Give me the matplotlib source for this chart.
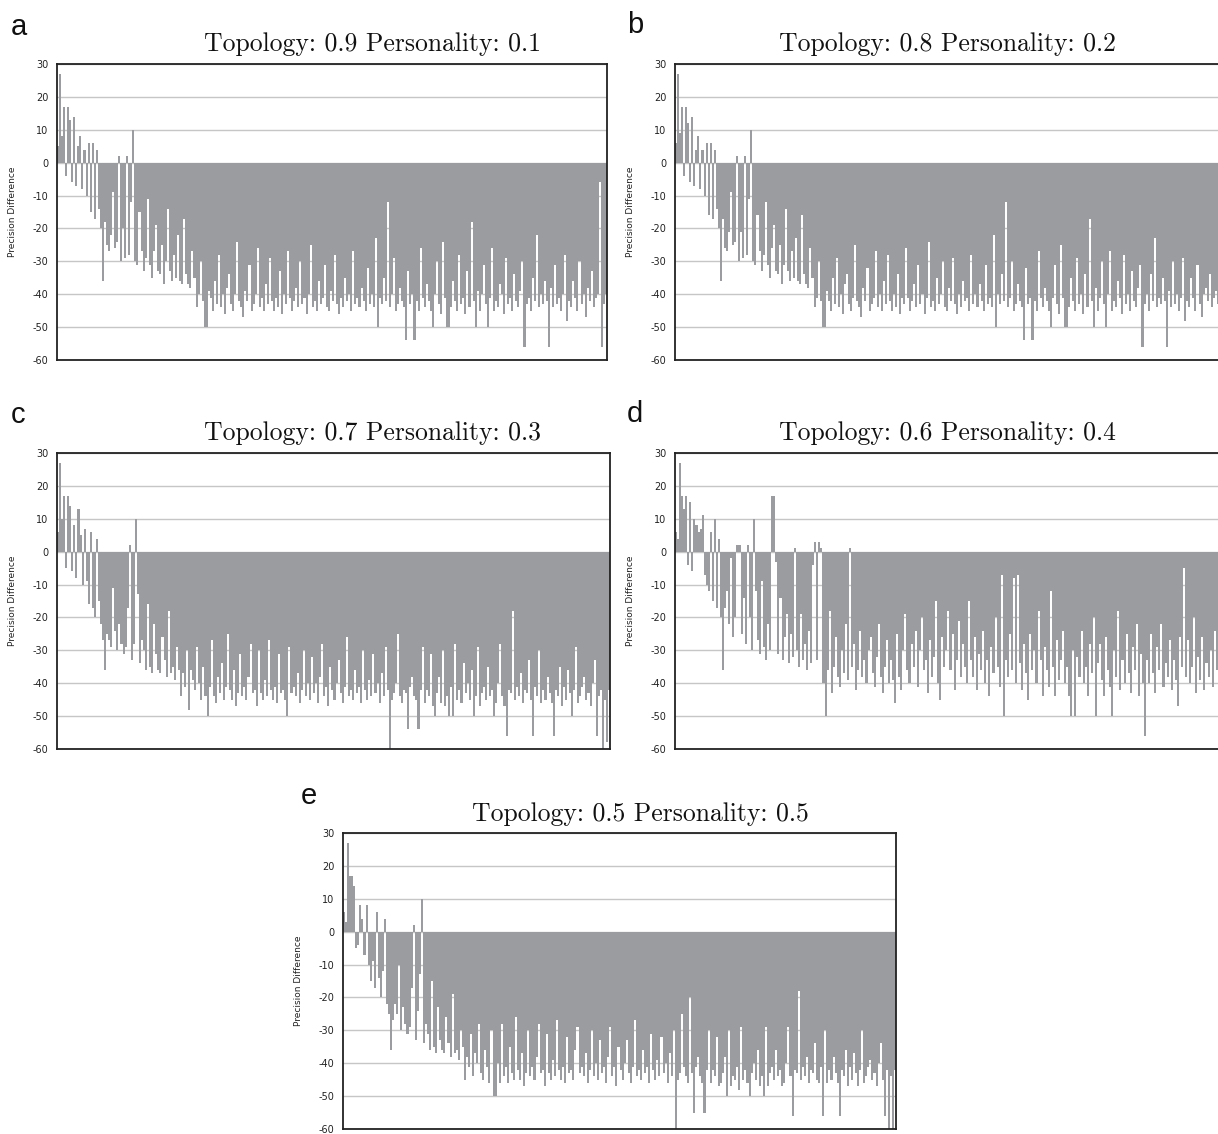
import numpy as np
import matplotlib
matplotlib.use("Agg")
import matplotlib.pyplot as plt

# ---------------- data ----------------
titles = ["Topology: 0.9 Personality: 0.1",
          "Topology: 0.8 Personality: 0.2",
          "Topology: 0.7 Personality: 0.3",
          "Topology: 0.6 Personality: 0.4",
          "Topology: 0.5 Personality: 0.5"]
letters = ["a", "b", "c", "d", "e"]
yticks = [30, 20, 10, 0, -10, -20, -30, -40, -50, -60]

values_a = [
    5, 27, 8, 17, -4, 17, 13, -6, 14, -7, 5, 8, -8, 4, -10, 6, -15, 6, -17, 4, -14, -20, -36, -18, -25, -27, -22, -9, -26, -24,
    2, -30, -20, -29, 2, -28, -12, 10, -30, -31, -15, -27, -33, -29, -11, -31, -35, -27, -19, -33, -34, -25, -37, -30, -14, -33, -36, -28, -35, -22,
    -36, -37, -17, -34, -37, -38, -27, -35, -44, -40, -30, -42, -50, -50, -39, -41, -45, -36, -43, -28, -44, -40, -46, -38, -34, -43, -45, -40, -24, -42,
    -44, -47, -39, -42, -31, -45, -43, -40, -26, -44, -41, -45, -37, -43, -29, -42, -45, -41, -44, -33, -46, -40, -43, -27, -41, -45, -42, -38, -44, -30,
    -43, -41, -46, -40, -25, -44, -42, -45, -36, -43, -41, -31, -44, -45, -39, -42, -28, -43, -46, -41, -44, -35, -42, -40, -45, -27, -43, -41, -44, -38,
    -42, -45, -32, -43, -40, -44, -23, -50, -41, -43, -35, -42, -12, -44, -40, -29, -45, -43, -38, -42, -44, -54, -33, -43, -40, -54, -42, -45, -26, -41,
    -44, -37, -42, -45, -50, -40, -30, -43, -46, -24, -41, -50, -50, -44, -36, -42, -45, -28, -43, -41, -46, -33, -44, -18, -42, -50, -39, -45, -40, -31,
    -43, -50, -41, -26, -45, -42, -44, -37, -40, -46, -29, -43, -41, -45, -34, -42, -44, -39, -30, -56, -43, -41, -45, -35, -42, -22, -44, -40, -43, -36,
    -42, -56, -38, -44, -31, -43, -41, -45, -40, -28, -48, -42, -44, -36, -41, -45, -30, -43, -40, -47, -38, -42, -33, -44, -41, -40, -6, -56, -43, -40]

values_b = [
    6, 27, 9, 17, -4, 17, 12, -6, 14, -7, 4, 8, -8, 4, -10, 6, -16, 6, -17, 4, -14, -20, -36, -17, -26, -27, -21, -9, -25, -24,
    2, -30, -21, -29, 2, -28, -11, 10, -30, -31, -16, -27, -33, -28, -12, -31, -35, -26, -19, -33, -34, -25, -37, -31, -14, -33, -36, -27, -35, -23,
    -36, -37, -16, -34, -37, -38, -26, -35, -44, -41, -30, -42, -50, -50, -39, -42, -45, -35, -43, -29, -44, -40, -46, -37, -34, -43, -45, -41, -25, -42,
    -44, -47, -38, -42, -32, -45, -43, -41, -27, -44, -40, -45, -36, -43, -28, -42, -45, -40, -44, -34, -46, -41, -43, -26, -41, -45, -42, -37, -44, -31,
    -43, -40, -46, -41, -24, -44, -42, -45, -35, -43, -40, -30, -44, -45, -38, -42, -29, -43, -46, -40, -44, -36, -42, -41, -45, -28, -43, -40, -44, -37,
    -42, -45, -31, -43, -41, -44, -22, -50, -40, -43, -34, -42, -12, -44, -41, -30, -45, -43, -37, -42, -44, -54, -32, -43, -41, -54, -42, -45, -27, -41,
    -44, -38, -42, -45, -50, -41, -31, -43, -46, -25, -41, -50, -50, -44, -35, -42, -45, -29, -43, -40, -46, -34, -44, -17, -42, -50, -38, -45, -41, -30,
    -43, -50, -40, -27, -45, -42, -44, -36, -41, -46, -28, -43, -40, -45, -33, -42, -44, -38, -31, -56, -43, -40, -45, -34, -42, -23, -44, -41, -43, -35,
    -42, -56, -39, -44, -30, -43, -40, -45, -41, -29, -48, -42, -44, -35, -41, -45, -31, -43, -47, -40, -38, -42, -34, -44, -41, -39, -43, -45, -40, -42]

values_c = [
    6, 27, 10, 17, -5, 17, 14, -6, 8, -8, 13, 5, -10, 7, -9, -16, 6, -17, -20, 4, -15, -22, -27, -36, -25, -27, -29, -11, -24, -30,
    -22, -28, -31, -29, -17, 2, -33, -28, 10, -13, -34, -27, -30, -36, -16, -35, -37, -22, -31, -36, -37, -26, -33, -38, -18, -37, -35, -39, -29, -36,
    -44, -37, -41, -30, -48, -36, -39, -42, -29, -40, -45, -35, -44, -50, -41, -27, -44, -46, -38, -43, -34, -45, -41, -25, -42, -45, -36, -47, -43, -31,
    -44, -41, -45, -38, -28, -43, -42, -47, -30, -43, -45, -39, -44, -27, -42, -45, -41, -46, -31, -43, -42, -45, -50, -29, -43, -41, -44, -37, -46, -42,
    -30, -44, -40, -45, -32, -43, -40, -46, -38, -28, -44, -41, -47, -35, -42, -45, -40, -33, -43, -46, -41, -26, -44, -42, -45, -36, -43, -41, -46, -30,
    -42, -45, -39, -44, -31, -43, -40, -46, -37, -44, -29, -42, -60, -45, -43, -40, -25, -44, -46, -42, -43, -54, -41, -38, -44, -45, -54, -42, -29, -46,
    -42, -44, -31, -47, -50, -43, -38, -46, -30, -47, -44, -50, -41, -50, -28, -45, -42, -46, -34, -43, -40, -45, -36, -50, -44, -29, -47, -43, -41, -45,
    -35, -44, -42, -50, -46, -40, -28, -44, -47, -56, -42, -43, -18, -45, -41, -44, -37, -46, -42, -43, -33, -45, -56, -41, -44, -30, -46, -42, -45, -38,
    -43, -46, -56, -42, -44, -35, -47, -41, -45, -36, -43, -50, -42, -29, -46, -44, -41, -38, -45, -43, -47, -40, -33, -56, -44, -42, -60, -45, -58, -42]

values_d = [
    6, 4, 27, 17, 13, 17, -4, 15, -6, 10, 8, 6, 7, 11, -7, -10, -12, 6, -15, 10, -17, 4, -20, -36, -17, -12, -22, -2, -26, -20,
    2, 2, -25, -14, -28, 2, -20, -30, 10, -12, -27, -31, -9, -29, -33, -22, -30, 17, 17, -3, -31, -14, -33, -26, -19, -34, -25, -32, 1, -30,
    -35, -19, -33, -28, -36, -24, -34, -4, 3, -33, 3, 1, -40, -50, -36, -18, -43, -35, -26, -38, -41, -30, -37, -22, -39, 1, -35, -28, -42, -36,
    -24, -38, -33, -40, -30, -26, -37, -41, -32, -22, -38, -43, -35, -27, -40, -33, -39, -46, -25, -38, -42, -30, -19, -36, -40, -28, -35, -24, -41, -30,
    -20, -36, -33, -43, -27, -38, -32, -15, -40, -45, -26, -35, -30, -18, -36, -25, -42, -33, -21, -38, -28, -35, -40, -15, -33, -38, -26, -42, -31, -36,
    -24, -40, -33, -44, -29, -37, -20, -35, -41, -7, -50, -33, -38, -25, -36, -8, -40, -7, -34, -42, -28, -37, -45, -25, -36, -30, -40, -18, -33, -44,
    -29, -36, -41, -12, -35, -44, -27, -39, -33, -24, -40, -35, -44, -50, -30, -50, -32, -38, -24, -40, -35, -44, -28, -37, -20, -50, -34, -28, -39, -44,
    -26, -36, -41, -50, -30, -38, -18, -42, -33, -40, -25, -37, -43, -29, -36, -22, -44, -31, -40, -56, -33, -40, -25, -37, -43, -29, -36, -22, -41, -34,
    -38, -27, -42, -33, -39, -47, -26, -35, -5, -38, -27, -40, -35, -20, -43, -32, -39, -26, -42, -34, -38, -30, -41, -24, -36, -43, -28, -39, -33, -40]

values_e = [
    6, 3, 27, 17, 17, 14, -5, -4, 8, 4, -7, 8, -10, -15, -9, -17, 6, -14, -20, -12, 4, -22, -25, -36, -27, -22, -25, -10, -30, -23,
    -28, -31, -29, -17, 2, -33, -24, -13, 10, -34, -28, -31, -36, -15, -35, -37, -23, -33, -36, -37, -26, -34, -38, -19, -37, -36, -39, -30, -35, -45,
    -38, -41, -31, -44, -37, -40, -28, -43, -45, -36, -41, -46, -30, -50, -50, -40, -46, -28, -44, -41, -46, -35, -43, -45, -26, -42, -45, -37, -47, -43,
    -30, -44, -41, -45, -38, -28, -43, -42, -47, -31, -43, -45, -39, -44, -27, -42, -45, -41, -46, -32, -43, -42, -45, -36, -29, -43, -41, -44, -37, -46,
    -42, -30, -44, -40, -45, -33, -43, -41, -46, -38, -29, -44, -41, -47, -35, -42, -45, -40, -33, -43, -46, -41, -27, -44, -42, -45, -36, -43, -41, -46,
    -31, -42, -45, -39, -44, -32, -43, -40, -46, -37, -44, -30, -60, -45, -43, -25, -41, -44, -46, -20, -43, -55, -41, -38, -44, -46, -55, -42, -30, -46,
    -42, -44, -32, -47, -46, -43, -38, -50, -30, -47, -44, -45, -41, -48, -29, -45, -42, -46, -50, -43, -40, -45, -36, -47, -44, -50, -29, -47, -43, -41,
    -45, -36, -44, -42, -47, -46, -40, -29, -44, -56, -42, -43, -18, -45, -41, -44, -38, -46, -42, -43, -34, -45, -46, -41, -56, -30, -46, -42, -45, -38,
    -43, -46, -56, -42, -44, -36, -47, -41, -45, -37, -43, -47, -42, -30, -46, -44, -41, -39, -45, -43, -47, -40, -34, -45, -56, -42, -60, -44, -60, -42]

all_values = [values_a, values_b, values_c, values_d, values_e]

# ---------------- layout (pixels) ----------------
W, H = 1218, 1134
fig = plt.figure(figsize=(W / 100, H / 100), dpi=100)

# (left, right, top, bottom) of each axes in pixels
boxes = [(57, 607, 64, 360), (675, 1225, 64, 360),
         (57, 610, 453, 749), (675, 1228, 453, 749),
         (343, 896, 833, 1129)]
title_pos = [(373, 51), (947, 51), (373, 440), (947, 440), (640, 821)]
letter_pos = [(19, 27), (635, 25), (18, 415), (635, 414), (309, 796)]

GRAY = "#9b9ca0"

for vals, (l, r, t, b), title, (tx, ty), letter, (lx, ly) in zip(
        all_values, boxes, titles, title_pos, letters, letter_pos):
    ax = fig.add_axes([l / W, (H - b) / H, (r - l) / W, (b - t) / H])
    x = np.arange(len(vals))
    ax.bar(x, vals, width=1.0, align="edge", color=GRAY, linewidth=0,
           antialiased=False, zorder=2)
    ax.set_xlim(0, len(vals))
    ax.set_ylim(-60, 30)
    ax.set_yticks(yticks)
    ax.set_yticklabels([str(v) for v in yticks])
    ax.set_xticks([])
    ax.set_axisbelow(True)
    ax.grid(axis="y", color="#c6c6c6", linewidth=1.0, zorder=0)
    ax.tick_params(axis="y", length=0, labelsize=7, pad=6, labelcolor="#222222")
    for s in ax.spines.values():
        s.set_color("#222222")
        s.set_linewidth(1.3)
    ax.set_ylabel("Precision Difference", fontsize=6.5, color="#222222")
    ax.yaxis.set_label_coords(-40 / (r - l), 0.5)
    fig.text(tx / W, 1 - ty / H, title, ha="center", va="baseline",
             fontsize=18.5, family="cmr10", color="#111111")
    fig.text(lx / W, 1 - ly / H, letter, ha="center", va="center",
             fontsize=21, family="Liberation Sans", color="#111111")

fig.savefig("out.png", dpi=100)
